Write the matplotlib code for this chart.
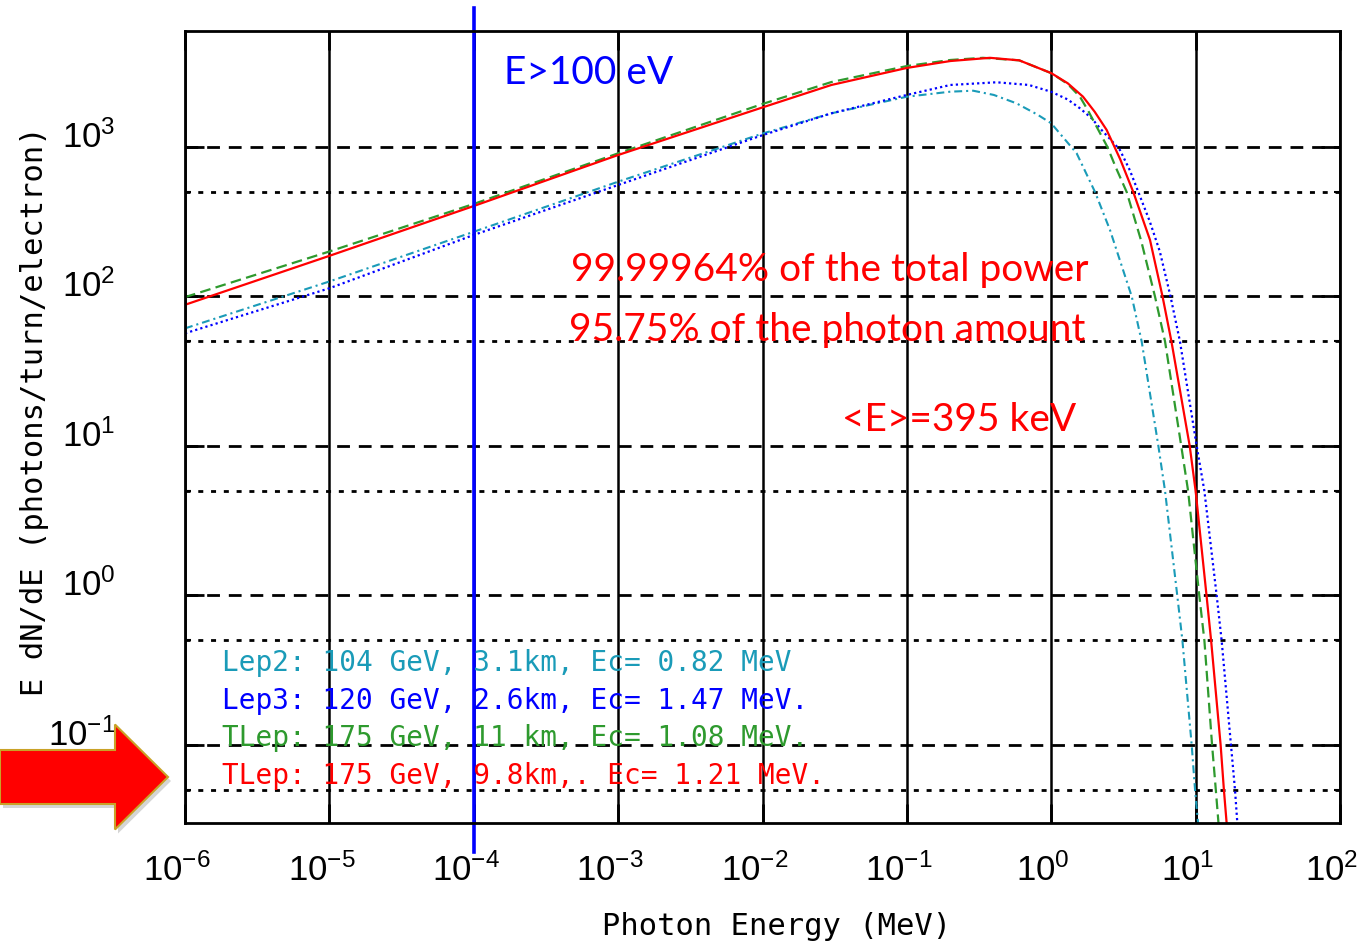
import matplotlib
matplotlib.use('Agg')
import matplotlib.pyplot as plt
from matplotlib.patches import FancyArrow
from matplotlib.ticker import FixedLocator, NullLocator, LogFormatterMathtext
from matplotlib.transforms import ScaledTranslation

W, H = 1358, 946

# Lep2: 104 GeV, 3.1 km, Ec = 0.82 MeV
energy_lep2 = [1e-6, 1e-5, 1e-4, 1e-3, 1e-2, 0.03, 0.1, 0.2, 0.288, 0.4, 0.574, 0.8, 1.0, 1.5,
               2.01, 2.55, 3.61, 4.23, 5.52, 6.14, 7.46, 8.1, 9.39, 9.91, 10.4, 11.2]
flux_lep2 = [61.2, 126, 271, 586, 1230, 1680, 2170, 2345, 2380, 2230, 1960, 1650, 1440, 907,
             500, 279, 100, 50, 10, 5, 1, 0.5, 0.1, 0.05, 0.03, 0.015]

# Lep3: 120 GeV, 2.6 km, Ec = 1.47 MeV
energy_lep3 = [1e-6, 1e-5, 1e-4, 1e-3, 1e-2, 0.03, 0.1, 0.2, 0.418, 0.7, 1.0, 1.3, 1.58, 1.9,
               2.23, 2.6, 2.99, 3.5, 4.01, 4.8, 5.65, 6.7, 7.79, 10.17, 11.5, 13.99, 15.14,
               17.57, 18.74, 19.45, 20.5]
flux_lep3 = [56.7, 113.5, 258, 557, 1200, 1680, 2230, 2600, 2710, 2600, 2340, 2080, 1815, 1560,
             1300, 1110, 955, 700, 500, 320, 200, 100, 50, 10, 5, 1, 0.5,
             0.1, 0.05, 0.03, 0.015]

# TLep: 175 GeV, 11 km, Ec = 1.08 MeV
energy_tlep11 = [1e-6, 1e-5, 1e-4, 1e-3, 1e-2, 0.03, 0.1, 0.2, 0.336, 0.6, 1.0, 1.3, 1.58, 1.8,
                 2.12, 2.45, 2.8, 3.33, 4.2, 5.23, 6.14, 7.95, 8.87, 10.6, 11.5, 13.0, 13.8,
                 14.4, 15.5]
flux_tlep11 = [99, 200, 416, 907, 1940, 2720, 3480, 3820, 3950, 3800, 3120, 2640, 2170, 1750,
               1300, 1000, 730, 500, 235, 100, 50, 10, 5, 1, 0.5, 0.1, 0.05,
               0.03, 0.015]

# TLep: 175 GeV, 9.8 km, Ec = 1.21 MeV
energy_tlep98 = [1e-6, 1e-5, 1e-4, 1e-3, 1e-2, 0.03, 0.1, 0.2, 0.376, 0.6, 1.0, 1.3, 1.66, 2.0,
                 2.42, 3.0, 3.70, 4.83, 5.9, 6.8, 9.1, 10.0, 11.9, 12.8, 14.9, 15.7, 16.4, 17.5]
flux_tlep98 = [88, 187, 403, 884, 1840, 2600, 3380, 3760, 3950, 3800, 3120, 2670, 2170, 1720,
               1300, 830, 500, 239, 100, 50, 10, 5, 1, 0.5, 0.1, 0.05, 0.03, 0.015]

legend_lines = [
    ("Lep2: 104 GeV, 3.1km, Ec= 0.82 MeV", "#1a9bb8"),
    ("Lep3: 120 GeV, 2.6km, Ec= 1.47 MeV.", "#0000ff"),
    ("TLep: 175 GeV, 11 km, Ec= 1.08 MeV.", "#2e9a2e"),
    ("TLep: 175 GeV, 9.8km,. Ec= 1.21 MeV.", "#ff0000"),
]

x_decades = [1e-6, 1e-5, 1e-4, 1e-3, 1e-2, 1e-1, 1e0, 1e1, 1e2]
y_decades = [1e-1, 1e0, 1e1, 1e2, 1e3]
y_halves = [0.05, 0.5, 5, 50, 500]

plt.rcParams['font.family'] = ['Liberation Sans Narrow', 'Liberation Sans', 'DejaVu Sans']
plt.rcParams['mathtext.fontset'] = 'custom'
plt.rcParams['mathtext.rm'] = 'Liberation Sans'
plt.rcParams['mathtext.default'] = 'rm'


def px(x, y):
    return x / W, 1 - y / H


fig = plt.figure(figsize=(W / 100, H / 100), dpi=100)
ax = fig.add_axes([185 / W, 1 - 823 / H, 1155 / W, 792 / H])

ax.set_xscale('log')
ax.set_yscale('log')
ax.set_xlim(1e-6, 1e2)
ax.set_ylim(10 ** -1.522, 10 ** 3.776)

ax.plot(energy_lep2, flux_lep2, color='#1a9bb8', lw=1.5, linestyle=(0, (3.8, 1.9, 1.0, 1.9)))
ax.plot(energy_lep3, flux_lep3, color='#0000ff', lw=1.6, linestyle=(0, (1.0, 1.4)))
ax.plot(energy_tlep11, flux_tlep11, color='#2e9a2e', lw=1.6, linestyle=(0, (4.8, 2.4)))
ax.plot(energy_tlep98, flux_tlep98, color='#ff0000', lw=1.6)

# E > 100 eV marker
ax.axvline(1e-4, ymin=-0.037, ymax=1.029, clip_on=False, color='#0000ff', lw=2.6)

ax.xaxis.set_major_locator(FixedLocator(x_decades))
ax.xaxis.set_minor_locator(NullLocator())
ax.xaxis.set_major_formatter(LogFormatterMathtext())
ax.yaxis.set_major_locator(FixedLocator(y_decades))
ax.yaxis.set_minor_locator(FixedLocator(y_halves))
ax.yaxis.set_major_formatter(LogFormatterMathtext())
ax.yaxis.set_minor_formatter(plt.NullFormatter())

ax.grid(True, axis='x', which='major', color='black', linestyle='-', linewidth=1.8)
ax.grid(True, axis='y', which='major', color='black', linestyle=(0, (4.6, 3.2)), linewidth=2)
ax.grid(True, axis='y', which='minor', color='black', linestyle=(0, (1.8, 2.8)), linewidth=2)

ax.tick_params(which='major', direction='in', length=14, width=2, top=True, right=True,
               labelsize=25)
ax.tick_params(which='minor', direction='in', length=4, width=1.5, left=True, right=True)
ax.tick_params(axis='x', pad=22)
ax.tick_params(axis='y', pad=50)
for s in ax.spines.values():
    s.set_linewidth(2)

for t in ax.yaxis.get_major_ticks(len(y_decades)):
    t.label1.set_transform(t.label1.get_transform() + ScaledTranslation(0, 0.13, fig.dpi_scale_trans))
for t in ax.xaxis.get_major_ticks(len(x_decades)):
    t.label1.set_transform(t.label1.get_transform() + ScaledTranslation(-0.08, 0, fig.dpi_scale_trans))

ax.set_xlabel('Photon Energy (MeV)', family='DejaVu Sans Mono', fontsize=22)
ax.set_ylabel('E dN/dE (photons/turn/electron)', family='DejaVu Sans Mono', fontsize=22)
ax.xaxis.set_label_coords(0.512, -0.112)
ax.yaxis.set_label_coords(-0.118, 0.52)

# annotations
ann = dict(family='Lato', fontsize=28, va='center', ha='left')
fig.text(*px(504, 73), 'E>100 eV', color='#0000ff', **ann)
fig.text(*px(571, 270), '99.99964% of the total power', color='#ff0000', **ann)
fig.text(*px(569, 330), '95.75% of the photon amount', color='#ff0000', **ann)
fig.text(*px(842, 420), '<E>=395 keV', color='#ff0000', **ann)

for i, (txt, col) in enumerate(legend_lines):
    fig.text(*px(222, 663 + 37.7 * i), txt, color=col, family='DejaVu Sans Mono',
             fontsize=20, va='center', ha='left')

# big red arrow on the left
shadow = FancyArrow(0.03, (946 - 781) / 100, 1.68, 0, width=0.54, head_width=1.05,
                    head_length=0.53, length_includes_head=True, color='#888888', alpha=0.35,
                    lw=0, transform=fig.dpi_scale_trans)
arrow = FancyArrow(0.0, (946 - 777) / 100, 1.68, 0, width=0.54, head_width=1.05,
                   head_length=0.53, length_includes_head=True, facecolor='#ff0000',
                   edgecolor='#c9a227', lw=1.5, transform=fig.dpi_scale_trans)
fig.patches.extend([shadow, arrow])

fig.savefig('out.png', dpi=100)
